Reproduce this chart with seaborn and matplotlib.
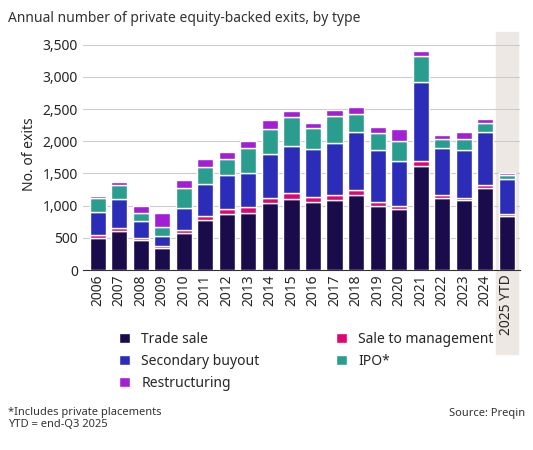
import matplotlib
matplotlib.use("Agg")
import matplotlib.pyplot as plt
import seaborn as sns
import numpy as np
from matplotlib.patches import Rectangle

years = ["2006","2007","2008","2009","2010","2011","2012","2013","2014","2015",
         "2016","2017","2018","2019","2020","2021","2022","2023","2024","2025 YTD"]
trade = [500,600,460,340,580,780,870,890,1040,1100,1050,1080,1170,990,940,1620,1120,1080,1270,840]
mgmt = [40,50,30,30,40,60,80,90,80,90,80,80,80,70,50,80,50,40,50,30]
secondary = [360,450,270,160,350,490,520,520,680,740,750,810,890,810,710,1220,720,740,820,550]
ipo = [220,220,120,140,300,270,260,390,390,450,320,420,280,260,310,410,150,180,140,60]
restr = [30,50,110,210,130,120,100,110,140,90,90,100,110,90,180,70,50,110,70,20]

colors = ["#1a0b4b", "#e0066f", "#2b2db8", "#2a9d8f", "#a21fd6"]
labels = ["Trade sale", "Sale to management", "Secondary buyout", "IPO*", "Restructuring"]
series = [trade, mgmt, secondary, ipo, restr]

sns.set_style("white")
plt.rcParams['font.family'] = ['Noto Sans', 'DejaVu Sans']
fig = plt.figure(figsize=(5.33, 4.5), dpi=100)
ax = fig.add_axes([0.155, 0.40, 0.82, 0.515])
x = np.arange(len(years))
bottom = np.zeros(len(years))
handles = []
for s, c, l in zip(series, colors, labels):
    h = ax.bar(x, s, bottom=bottom, color=c, width=0.75, label=l, zorder=3)
    handles.append(h)
    bottom += np.array(s)

ax.set_xlim(-0.7, len(years) - 0.4)
ax.set_ylim(0, 3600)
ax.set_yticks(range(0, 3501, 500))
ax.set_yticklabels([f"{v:,}" for v in range(0, 3501, 500)], fontsize=10)
ax.yaxis.grid(True, color="#cccccc", lw=0.8, zorder=0)
ax.set_xticks(x)
ax.set_xticklabels(years, rotation=90, fontsize=10)
ax.tick_params(axis='x', length=0, pad=3)
ax.tick_params(axis='y', length=0)
for sp in ["top", "right", "left"]:
    ax.spines[sp].set_visible(False)
ax.spines["bottom"].set_color("#333333")
ax.set_ylabel("No. of exits", fontsize=10)
ax.add_patch(Rectangle((len(years) - 1.5, -1300), 1.0, 5000, color="#ede8e4",
                       zorder=0, clip_on=False, transform=ax.transData))

fig.text(0.015, 0.975, "Annual number of private equity-backed exits, by type",
         fontsize=10, color="#333333", va="top")
order = [0, 2, 4, 1, 3]
fig.legend([handles[i] for i in order], [labels[i] for i in order],
           loc="upper left", bbox_to_anchor=(0.2, 0.29), ncol=2, frameon=False,
           fontsize=10, handlelength=0.8, handleheight=0.8, columnspacing=5.5,
           labelspacing=0.5)
fig.text(0.015, 0.07, "*Includes private placements\nYTD = end-Q3 2025", fontsize=8,
         color="#333333", va="center")
fig.text(0.985, 0.075, "Source: Preqin", fontsize=8, color="#333333", ha="right")
fig.savefig("out.png", dpi=100)
